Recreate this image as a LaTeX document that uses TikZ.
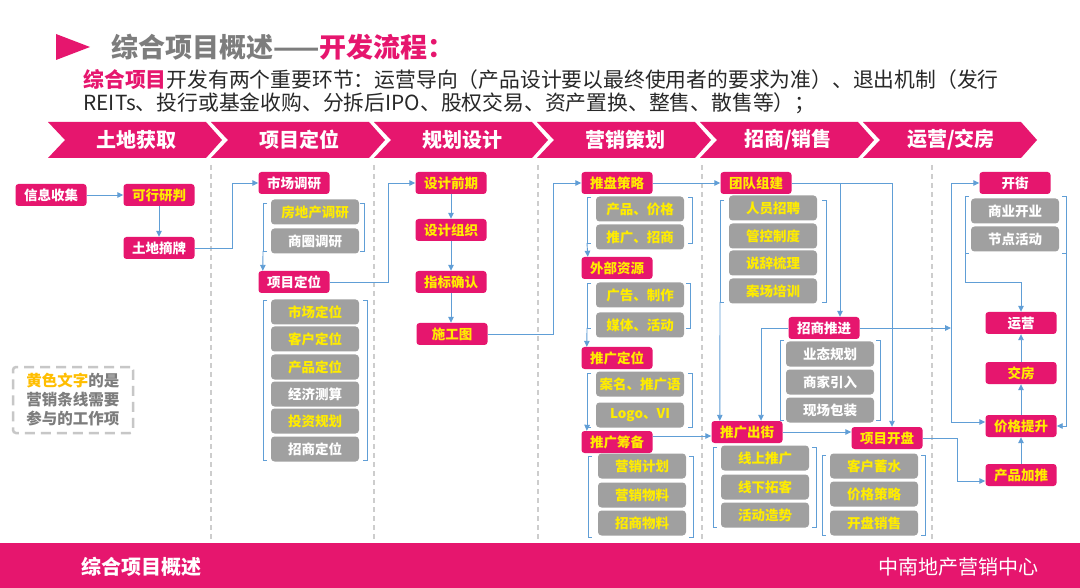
\documentclass[tikz,border=0pt]{standalone}
\usepackage{fontspec}
\setmainfont{Noto Sans CJK SC}
\usetikzlibrary{arrows.meta,positioning}
\definecolor{rose}{RGB}{230,22,110}
\definecolor{boxgray}{RGB}{160,160,160}
\definecolor{hilite}{RGB}{255,236,0}
\definecolor{wire}{RGB}{96,158,214}
\definecolor{sepgray}{RGB}{205,205,205}
\definecolor{inkgray}{RGB}{125,125,125}
\definecolor{gold}{RGB}{255,190,0}
\definecolor{ink}{RGB}{40,40,40}

\begin{document}
\begin{tikzpicture}[x=1pt,y=-1pt,font=\fontsize{13.5}{15}\selectfont\bfseries,
  stage/.style={fill=rose,rounded corners=3pt,minimum width=71pt,minimum height=22pt,inner sep=1pt,text=white},
  stagey/.style={stage,text=hilite},
  item/.style={fill=boxgray,rounded corners=3.5pt,minimum width=88pt,minimum height=25pt,inner sep=1pt,text=white},
  itemy/.style={item,text=hilite},
  ar/.style={-{Triangle[length=6pt,width=5.5pt]},wire,line width=0.9pt},
  br/.style={wire,line width=0.8pt},
  sep/.style={sepgray,line width=1.2pt,dash pattern=on 5pt off 4pt},
  band/.style={font=\fontsize{20}{22}\selectfont\bfseries,text=white}]
\useasboundingbox[fill=white] (0,0) rectangle (1080,588);
% header
\fill[rose] (56,34) -- (90,47) -- (56,60) -- cycle;
\node[anchor=west,font=\fontsize{27}{30}\selectfont\bfseries,text=inkgray] (tt) at (108,47)
  {综合项目概述——{\color{rose}开发流程：}};
\node[anchor=west,font=\fontsize{20.8}{23}\selectfont,text=ink] (s1) at (80,80)
  {{\color{rose}\bfseries 综合项目}开发有两个重要环节：运营导向（产品设计要以最终使用者的要求为准）、退出机制（发行};
\node[anchor=west,font=\fontsize{20.8}{23}\selectfont,text=ink] (s2) at (80,103)
  {REITs、投行或基金收购、分拆后IPO、股权交易、资产置换、整售、散售等）；};
\foreach \x/\t [count=\i] in {48/土地获取,211/项目定位,374/规划设计,537/营销策划,700/{招商/销售},863/{运营/交房}}{
  \fill[rose] (\x,122) -- ++(158,0) -- ++(16,18) -- ++(-16,18) -- ++(-158,0) -- ++(17,-18) -- cycle;
  \node[band] (c\i) at (\x+88,140) {\t};
}
\foreach \x in {211,374,538,702,932}
  \draw[sep] (\x,165) -- (\x,540);
% footer
\fill[rose] (0,543) rectangle (1080,588);
\node[anchor=west,text=white,font=\fontsize{20}{22}\selectfont\bfseries] (fl) at (78,567) {综合项目概述};
\node[anchor=east,text=white,font=\fontsize{20}{22}\selectfont] (fr) at (1042,567) {中南地产营销中心};
% legend
\node[draw=black!22,line width=2.5pt,dash pattern=on 10pt off 6pt,rounded corners=3pt,minimum width=120pt,
  minimum height=66pt,align=left,text=inkgray,font=\fontsize{15.5}{19}\selectfont\bfseries] (lg) at (73,400)
  {{\color{gold}黄色文字}的是\\营销条线需要\\参与的工作项};
% land
\node[stage] (xx) at (51,195) {信息收集};
\node[stagey] (kx) at (159,195) {可行研判};
\node[stage] (tz) at (159,248) {土地摘牌};
% positioning
\node[stage] (sc) at (294,183) {市场调研};
\node[itemy] (fdc) at (315,212) {房地产调研};
\node[item] (sqd) at (315,241) {商圈调研};
\node[stage] (xd) at (294,282) {项目定位};
\node[itemy] (scdw) at (315,312) {市场定位};
\node[itemy] (khdw) at (315,339) {客户定位};
\node[itemy] (cpdw) at (315,367) {产品定位};
\node[item] (jjcs) at (315,394) {经济测算};
\node[itemy] (tzgh) at (315,421) {投资规划};
\node[item] (zsdw) at (315,449) {招商定位};
% design
\node[stagey] (sjqq) at (451,183) {设计前期};
\node[stagey] (sjzz) at (451,230) {设计组织};
\node[stagey] (zbqr) at (451,282) {指标确认};
\node[stagey] (sgt) at (452,334) {施工图};
% marketing
\node[stagey] (tpcl) at (617,183) {推盘策略};
\node[itemy] (cpjg) at (640,209) {产品、价格};
\node[itemy] (tgzs) at (640,237) {推广、招商};
\node[stagey] (wbzy) at (617,268) {外部资源};
\node[itemy] (ggzz) at (640,295) {广告、制作};
\node[itemy] (mthd) at (640,325) {媒体、活动};
\node[stagey] (tgdw) at (617,358) {推广定位};
\node[itemy] (amtg) at (640,384) {案名、推广语};
\node[itemy] (logo) at (640,415) {Logo、VI};
\node[stagey] (tgcb) at (617,442) {推广筹备};
\node[itemy] (yxjh) at (642,466) {营销计划};
\node[itemy] (yxwl) at (642,495) {营销物料};
\node[itemy] (zswl) at (642,523) {招商物料};
% sales
\node[stagey] (tdzj) at (756,183) {团队组建};
\node[itemy] (rypz) at (773,208) {人员招聘};
\node[itemy] (gkzd) at (773,236) {管控制度};
\node[itemy] (scsl) at (773,263) {说辞梳理};
\node[itemy] (acpx) at (773,291) {案场培训};
\node[stage] (zstj) at (824,328) {招商推进};
\node[item] (ytgh) at (830,354) {业态规划};
\node[item] (sjyr) at (830,382) {商家引入};
\node[item] (xcbz) at (830,410) {现场包装};
\node[stagey] (tgcj) at (747,432) {推广出街};
\node[itemy] (xstg) at (765,458) {线上推广};
\node[itemy] (xxtk) at (765,487) {线下拓客};
\node[itemy] (hdzs) at (765,515) {活动造势};
\node[stagey] (xmkp) at (887,438) {项目开盘};
\node[itemy] (khxs) at (874,466) {客户蓄水};
\node[itemy] (jgcl) at (874,494) {价格策略};
\node[itemy] (kpxs) at (874,523) {开盘销售};
% operation
\node[stage] (kj) at (1015,183) {开街};
\node[item] (syky) at (1015,211) {商业开业};
\node[item] (jdhd) at (1015,239) {节点活动};
\node[stage] (yy) at (1021,323) {运营};
\node[stagey] (jf) at (1021,373) {交房};
\node[stagey] (jgts) at (1021,426) {价格提升};
\node[stagey] (cpjt) at (1021,475) {产品加推};
% brackets
\foreach \l/\r/\t/\b in {263/364/203/251,263/367/300/460,587/692/197/243,587/690/283/328,587/692/373/427,
    588/693/456/537,720/826/200/302,780/880/340/420,713/816/447/527,822/925/455/535,965/1066/196/253}
  \draw[br] (\l+4,\t) -- (\l,\t) -- (\l,\b) -- (\l+4,\b) (\r-4,\t) -- (\r,\t) -- (\r,\b) -- (\r-4,\b);
% flow
\draw[ar] (xx) -- (kx);
\draw[ar] (kx) -- (tz);
\draw[ar] (tz.east) -- ++(38,0) |- (sc.west);
\draw[ar] (263,251) -- ([xshift=4.5pt]xd.north west);
\draw[ar] (xd.east) -- ++(58.5,0) |- (sjqq.west);
\draw[ar] (sjqq) -- (sjzz);
\draw[ar] (sjzz) -- (zbqr);
\draw[ar] (zbqr.south) -- (zbqr.south |- sgt.north);
\draw[ar] (sgt.east) -- ++(66,0) |- (tpcl.west);
\draw[ar] (587,243) -- ([xshift=6.5pt]wbzy.north west);
\draw[ar] (587,328) -- ([xshift=5.5pt]tgdw.north west);
\draw[ar] (587,427) -- ([xshift=5.5pt]tgcb.north west);
\draw[ar] (tpcl) -- (tdzj);
\draw[ar] (tdzj.east) -| ([xshift=5pt]xmkp.north);
\draw[ar] ([xshift=16pt]zstj.north |- tdzj.east) -- ([xshift=16pt]zstj.north);
\draw[ar] (720,302) -- ([xshift=8.5pt]tgcj.north west);
\draw[ar] (zstj.west) -| ([xshift=14pt]tgcj.north);
\draw[ar] ([yshift=6pt]tgcb.east) -- ([yshift=6pt]tgcb.east -| tgcj.west);
\draw[ar] (tgcj.east) -- (tgcj.east -| xmkp.west);
\coordinate (bus) at (951,328);
\draw[ar] (zstj.east) -- (bus);
\draw[ar] (bus) |- (kj.west);
\draw[ar] (bus) |- ([yshift=4pt]jgts.west);
\draw[ar] (965,253) -- (965,282) -| (yy.north);
\draw[ar] (1066,253) |- (jgts.east);
\draw[ar] (xmkp.east) -- ++(35,0) |- ([yshift=-6pt]cpjt.west);
\draw[ar] (cpjt) -- (jgts);
\draw[ar] (jgts) -- (jf);
\draw[ar] (jf) -- (yy);
\end{tikzpicture}
\end{document}
